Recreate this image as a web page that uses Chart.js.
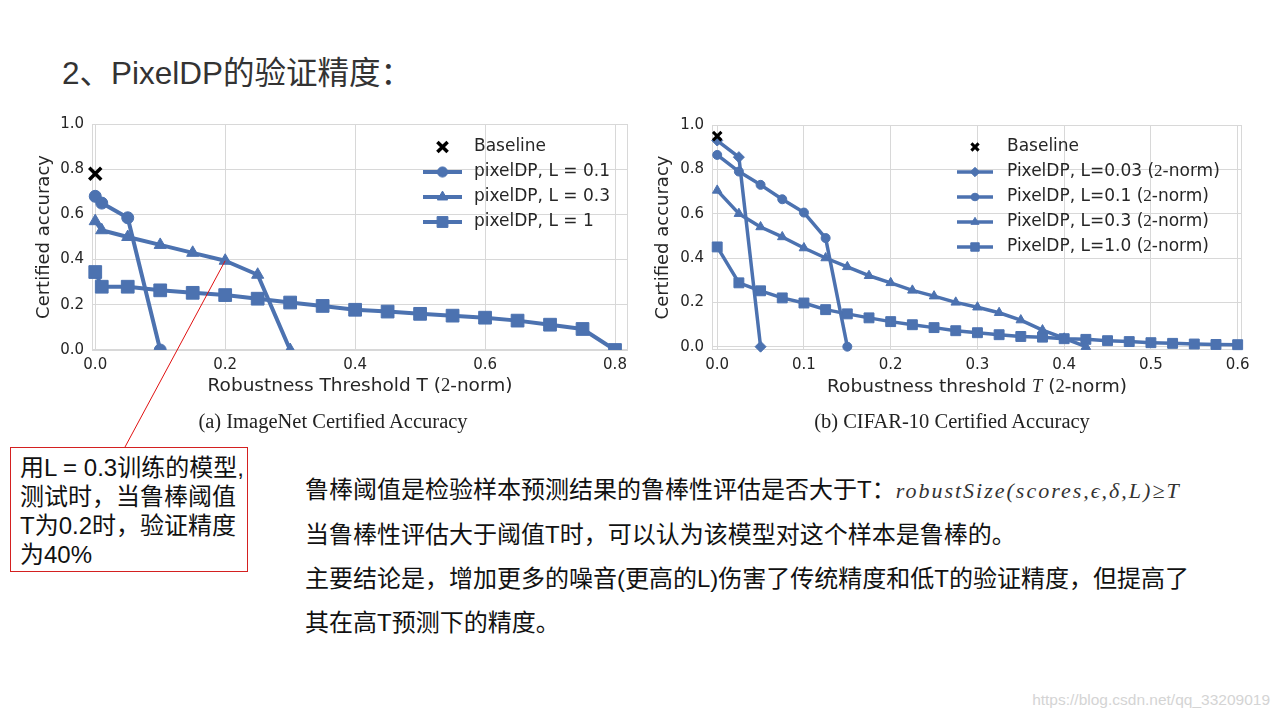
<!DOCTYPE html>
<html>
<head>
<meta charset="utf-8">
<script src="https://cdn.jsdelivr.net/npm/chart.js@4.4.1/dist/chart.umd.min.js"></script>
<style>
  body{margin:0;width:1280px;height:720px;background:#fff;position:relative;overflow:hidden;
    font-family:"Liberation Sans","Noto Sans CJK SC",sans-serif;color:#111}
  .abs{position:absolute}
  #title{left:62px;top:54px;font-size:31.5px;line-height:38px;color:#333;white-space:nowrap}
  #wrapA{left:0;top:100px;width:640px;height:360px}
  #wrapB{left:640px;top:100px;width:640px;height:300px}
  .cap{top:408px;width:400px;text-align:center;font-family:"Liberation Serif",serif;font-size:20.5px;line-height:26px;color:#222}
  #note{left:10px;top:447px;border:1px solid #d42020;background:#fff;
    padding:5px 0 0 9px;box-sizing:border-box;width:238px;height:125px;font-size:24px;line-height:29px;white-space:nowrap}
  #para{left:305px;top:468px;font-size:24px;line-height:44px;white-space:nowrap}
  .math{font-family:"Liberation Serif",serif;font-style:italic;font-size:22px;letter-spacing:2px;color:#333}
  #wm{right:10px;top:690px;font-size:15.5px;color:#d4d4d4;line-height:20px}
</style>
</head>
<body>
<div id="title" class="abs">2、PixelDP的验证精度：</div>

<div id="wrapA" class="abs"><canvas id="chartA" width="640" height="360"></canvas></div>
<div id="wrapB" class="abs"><canvas id="chartB" width="640" height="300"></canvas></div>

<div class="abs cap" style="left:133px">(a) ImageNet Certified Accuracy</div>
<div class="abs cap" style="left:752px">(b) CIFAR-10 Certified Accuracy</div>

<div id="note" class="abs">用L = 0.3训练的模型,<br>测试时，当鲁棒阈值<br>T为0.2时，验证精度<br>为40%</div>

<div id="para" class="abs">鲁棒阈值是检验样本预测结果的鲁棒性评估是否大于T：<span class="math">robustSize(scores,ϵ,δ,L)≥T</span><br>当鲁棒性评估大于阈值T时，可以认为该模型对这个样本是鲁棒的。<br>主要结论是，增加更多的噪音(更高的L)伤害了传统精度和低T的验证精度，但提高了<br>其在高T预测下的精度。</div>

<div id="wm" class="abs">https://blog.csdn.net/qq_33209019</div>

<script>
// ---- (a) ImageNet ----
const aBaseX = [0];
const aBaseY = [0.78];
const aL01X = [0, 0.01, 0.05, 0.1];
const aL01Y = [0.68, 0.65, 0.585, 0];
const aL03X = [0, 0.01, 0.05, 0.1, 0.15, 0.2, 0.25, 0.3];
const aL03Y = [0.57, 0.53, 0.50, 0.465, 0.43, 0.395, 0.333, 0];
const aL1X = [0, 0.01, 0.05, 0.1, 0.15, 0.2, 0.25, 0.3, 0.35, 0.4, 0.45, 0.5, 0.55, 0.6, 0.65, 0.7, 0.75, 0.8];
const aL1Y = [0.345, 0.28, 0.28, 0.264, 0.253, 0.243, 0.227, 0.21, 0.195, 0.178, 0.17, 0.16, 0.152, 0.143, 0.13, 0.112, 0.093, 0];
const aLabels = ['Baseline', 'pixelDP, L = 0.1', 'pixelDP, L = 0.3', 'pixelDP, L = 1'];
const aXTicks = [0, 0.2, 0.4, 0.6, 0.8];
const aYTicks = [0, 0.2, 0.4, 0.6, 0.8, 1.0];

// ---- (b) CIFAR-10 ----
const bBaseX = [0];
const bBaseY = [0.95];
const bL003X = [0, 0.025, 0.05];
const bL003Y = [0.93, 0.855, 0];
const bL01X = [0, 0.025, 0.05, 0.075, 0.1, 0.125, 0.15];
const bL01Y = [0.865, 0.79, 0.73, 0.665, 0.605, 0.49, 0];
const bL03X = [0, 0.025, 0.05, 0.075, 0.1, 0.125, 0.15, 0.175, 0.2, 0.225, 0.25, 0.275, 0.3, 0.325, 0.35, 0.375, 0.4, 0.425];
const bL03Y = [0.705, 0.6, 0.54, 0.495, 0.445, 0.4, 0.36, 0.32, 0.288, 0.254, 0.228, 0.2, 0.178, 0.153, 0.12, 0.075, 0.038, 0];
const bL10X = [0, 0.025, 0.05, 0.075, 0.1, 0.125, 0.15, 0.175, 0.2, 0.225, 0.25, 0.275, 0.3, 0.325, 0.35, 0.375, 0.4, 0.425, 0.45, 0.475, 0.5, 0.525, 0.55, 0.575, 0.6];
const bL10Y = [0.45, 0.288, 0.252, 0.22, 0.197, 0.167, 0.148, 0.13, 0.113, 0.099, 0.086, 0.072, 0.063, 0.054, 0.046, 0.043, 0.036, 0.033, 0.027, 0.023, 0.018, 0.015, 0.012, 0.01, 0.009];
const bLabels = ['Baseline', 'PixelDP, L=0.03 ({2}-norm)', 'PixelDP, L=0.1 ({2}-norm)', 'PixelDP, L=0.3 ({2}-norm)', 'PixelDP, L=1.0 ({2}-norm)'];
const bXTicks = [0, 0.1, 0.2, 0.3, 0.4, 0.5, 0.6];
const bYTicks = [0, 0.2, 0.4, 0.6, 0.8, 1.0];

const BLUE = '#4c72b0';
const GRID = '#d8d8d8';
const TXT = '#262626';
Chart.defaults.font.family = 'DejaVu Sans';
Chart.defaults.color = TXT;

const pts = (xs, ys) => xs.map((x, i) => ({x: x, y: ys[i]}));

function baseline(xs, ys, label, r, w){
  return {label, data: pts(xs, ys), showLine: false, pointStyle: 'crossRot',
    pointRadius: r, pointBorderWidth: w, pointBorderColor: '#000', pointBackgroundColor: '#000', clip: false};
}
function series(xs, ys, label, style, r, lw, clip){
  return {label, data: pts(xs, ys), showLine: true, borderColor: BLUE, backgroundColor: BLUE,
    borderWidth: lw, pointStyle: style, pointRadius: r, pointBorderWidth: 1,
    pointBackgroundColor: BLUE, pointBorderColor: BLUE, borderJoinStyle: 'round', clip: clip};
}

// text with {serif} and [italic serif] pieces
function drawRich(ctx, text, x, y, size, align){
  const parts = text.split(/(\{[^}]*\}|\[[^\]]*\])/).filter(s => s.length);
  const segs = parts.map(p => {
    if(p[0] === '{') return {t: p.slice(1, -1), f: size + 'px "Liberation Serif"'};
    if(p[0] === '[') return {t: p.slice(1, -1), f: 'italic ' + size + 'px "Liberation Serif"'};
    return {t: p, f: size + 'px "DejaVu Sans"'};
  });
  let total = 0;
  segs.forEach(s => { ctx.font = s.f; s.w = ctx.measureText(s.t).width; total += s.w; });
  let cx = align === 'center' ? x - total / 2 : x;
  ctx.textAlign = 'left';
  ctx.textBaseline = 'middle';
  segs.forEach(s => { ctx.font = s.f; ctx.fillText(s.t, cx, y); cx += s.w; });
}

function markerAt(ctx, ds, x, y, scale){
  ctx.save();
  ctx.fillStyle = ds.pointBackgroundColor;
  ctx.strokeStyle = ds.pointBorderColor;
  ctx.lineWidth = ds.pointBorderWidth;
  Chart.helpers.drawPoint(ctx, {pointStyle: ds.pointStyle, radius: ds.pointRadius * scale,
    rotation: 0, borderWidth: ds.pointBorderWidth}, x, y);
  ctx.restore();
}

// frame, axis titles and in-plot legend
const decor = {
  id: 'decor',
  beforeDatasetsDraw(chart, args, o){
    const a = chart.chartArea, ctx = chart.ctx;
    ctx.save();
    ctx.strokeStyle = GRID;
    ctx.lineWidth = 1;
    ctx.strokeRect(a.left + 0.5, a.top + 0.5, a.right - a.left - 1, a.bottom - a.top - 1);
    ctx.restore();
  },
  afterDraw(chart, args, o){
    const a = chart.chartArea, ctx = chart.ctx;
    ctx.save();
    ctx.fillStyle = TXT;
    drawRich(ctx, o.xTitle, (a.left + a.right) / 2, a.bottom + o.xTitleGap, 18.5, 'center');
    ctx.translate(a.left - o.yTitleGap, (a.top + a.bottom) / 2);
    ctx.rotate(-Math.PI / 2);
    drawRich(ctx, 'Certified accuracy', 0, 0, 18, 'center');
    ctx.restore();

    // legend
    chart.data.datasets.forEach((ds, i) => {
      const y = o.legY + i * o.legStep;
      const mid = (o.legX1 + o.legX2) / 2;
      if(ds.showLine){
        ctx.save();
        ctx.strokeStyle = ds.borderColor;
        ctx.lineWidth = ds.borderWidth;
        ctx.beginPath();
        ctx.moveTo(o.legX1, y);
        ctx.lineTo(o.legX2, y);
        ctx.stroke();
        ctx.restore();
      }
      markerAt(ctx, ds, mid, y, 0.85);
      ctx.fillStyle = TXT;
      drawRich(ctx, o.labels[i], o.legText, y, 17, 'left');
    });
  }
};

// red callout line from L=0.3 point at T=0.2 to the note box
const callout = {
  id: 'callout',
  afterDraw(chart){
    const p = chart.getDatasetMeta(2).data[5];
    const ctx = chart.ctx;
    ctx.save();
    ctx.strokeStyle = '#e01010';
    ctx.lineWidth = 1;
    ctx.beginPath();
    ctx.moveTo(p.x, p.y);
    ctx.lineTo(125, 347);
    ctx.stroke();
    ctx.restore();
  }
};

function scales(xMin, xMax, yMin, yMax, xTicks, yTicks){
  return {
    x: {type: 'linear', min: xMin, max: xMax,
      afterBuildTicks: s => { s.ticks = xTicks.map(v => ({value: v})); },
      afterFit: s => { s.height = 30; },
      grid: {color: GRID, drawTicks: false}, border: {display: false},
      ticks: {padding: 6, font: {size: 15}, color: TXT, maxRotation: 0, callback: v => v.toFixed(1)}},
    y: {type: 'linear', min: yMin, max: yMax,
      afterBuildTicks: s => { s.ticks = yTicks.map(v => ({value: v})); },
      afterFit: s => { s.width = 62; },
      grid: {color: GRID, drawTicks: false}, border: {display: false},
      ticks: {padding: 8, font: {size: 15}, color: TXT, callback: v => v.toFixed(1)}}
  };
}

const clipA = {left: 8, top: 8, right: 8, bottom: 0};
new Chart(document.getElementById('chartA'), {
  type: 'scatter',
  data: {datasets: [
    baseline(aBaseX, aBaseY, aLabels[0], 8.5, 3.5),
    series(aL01X, aL01Y, aLabels[1], 'circle', 6, 4, clipA),
    series(aL03X, aL03Y, aLabels[2], 'triangle', 7, 4, clipA),
    series(aL1X, aL1Y, aLabels[3], 'rect', 9, 4, clipA)
  ]},
  options: {
    responsive: false, animation: false,
    layout: {padding: {left: 30, top: 24, right: 12, bottom: 80}},
    scales: scales(-0.005, 0.82, 0, 1.0, aXTicks, aYTicks),
    plugins: {legend: {display: false}, tooltip: {enabled: false},
      decor: {xTitle: 'Robustness Threshold T ({2}-norm)', xTitleGap: 36, yTitleGap: 48,
        labels: aLabels, legX1: 423, legX2: 462, legText: 474, legY: 47, legStep: 25}}
  },
  plugins: [decor, callout]
});

const clipB = {left: 8, top: 8, right: 8, bottom: 8};
new Chart(document.getElementById('chartB'), {
  type: 'scatter',
  data: {datasets: [
    baseline(bBaseX, bBaseY, bLabels[0], 6, 3),
    series(bL003X, bL003Y, bLabels[1], 'rectRot', 5.5, 3.5, clipB),
    series(bL01X, bL01Y, bLabels[2], 'circle', 4.5, 3.5, clipB),
    series(bL03X, bL03Y, bLabels[3], 'triangle', 5.5, 3.5, clipB),
    series(bL10X, bL10Y, bLabels[4], 'rect', 7, 3.5, clipB)
  ]},
  options: {
    responsive: false, animation: false,
    layout: {padding: {left: 10, top: 25, right: 38, bottom: 20}},
    scales: scales(-0.006, 0.605, -0.015, 1.0, bXTicks, bYTicks),
    plugins: {legend: {display: false}, tooltip: {enabled: false},
      decor: {xTitle: 'Robustness threshold [T] ({2}-norm)', xTitleGap: 37, yTitleGap: 49,
        labels: bLabels, legX1: 317, legX2: 353, legText: 367, legY: 47, legStep: 25}}
  },
  plugins: [decor]
});
</script>
</body>
</html>
